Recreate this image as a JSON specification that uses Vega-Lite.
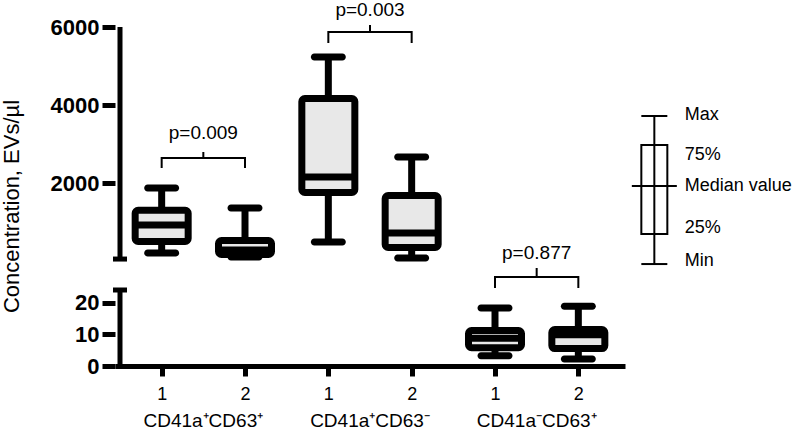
{
  "$schema": "https://vega.github.io/schema/vega-lite/v6.json",
  "autosize": {"type": "none"},
  "padding": {"left": 115, "top": 27, "right": 175, "bottom": 65},
  "width": 510,
  "height": 339,
  "background": "white",
  "config": {
    "view": {"stroke": null},
    "font": "Liberation Sans",
    "axis": {"grid": false, "labelColor": "black", "domainColor": "black", "tickColor": "black", "tickWidth": 5, "domainWidth": 5, "labelOverlap": false, "titleColor": "black"},
    "axisY": {"labelFontSize": 22, "labelFontWeight": "bold", "tickSize": 13, "labelPadding": 3, "domain": false},
    "axisX": {"labelFontSize": 18, "labelFontWeight": "normal", "tickSize": 10, "labelPadding": 9, "labelFlush": false}
  },
  "datasets": {
    "boxes": [
      {"group": "CD41a+CD63+", "sample": 1, "pos": 1, "min": 205, "q1": 500, "median": 923, "q3": 1300, "max": 1872},
      {"group": "CD41a+CD63+", "sample": 2, "pos": 2, "min": 100, "q1": 167, "median": 282, "q3": 526, "max": 1359},
      {"group": "CD41a+CD63-", "sample": 1, "pos": 3, "min": 487, "q1": 1756, "median": 2154, "q3": 4167, "max": 5231},
      {"group": "CD41a+CD63-", "sample": 2, "pos": 4, "min": 77, "q1": 346, "median": 718, "q3": 1679, "max": 2667},
      {"group": "CD41a-CD63+", "sample": 1, "pos": 5, "min": 3.2, "q1": 5.8, "median": 8.8, "q3": 11.2, "max": 18.3},
      {"group": "CD41a-CD63+", "sample": 2, "pos": 6, "min": 2.2, "q1": 5.5, "median": 9.9, "q3": 11.5, "max": 18.9}
    ],
    "brackets": [
      {"b": "b1", "i": 0, "pos": 1, "v": 2385}, {"b": "b1", "i": 1, "pos": 1, "v": 2641}, {"b": "b1", "i": 2, "pos": 1.5, "v": 2641}, {"b": "b1", "i": 3, "pos": 1.5, "v": 2795}, {"b": "b1", "i": 4, "pos": 1.5, "v": 2641}, {"b": "b1", "i": 5, "pos": 2, "v": 2641}, {"b": "b1", "i": 6, "pos": 2, "v": 2385},
      {"b": "b2", "i": 0, "pos": 3, "v": 5590}, {"b": "b2", "i": 1, "pos": 3, "v": 5872}, {"b": "b2", "i": 2, "pos": 3.5, "v": 5872}, {"b": "b2", "i": 3, "pos": 3.5, "v": 6051}, {"b": "b2", "i": 4, "pos": 3.5, "v": 5872}, {"b": "b2", "i": 5, "pos": 4, "v": 5872}, {"b": "b2", "i": 6, "pos": 4, "v": 5590},
      {"b": "b3", "i": 0, "pos": 5, "v": 25.7}, {"b": "b3", "i": 1, "pos": 5, "v": 34.9}, {"b": "b3", "i": 2, "pos": 5.5, "v": 34.9}, {"b": "b3", "i": 3, "pos": 5.5, "v": 42.5}, {"b": "b3", "i": 4, "pos": 5.5, "v": 34.9}, {"b": "b3", "i": 5, "pos": 6, "v": 34.9}, {"b": "b3", "i": 6, "pos": 6, "v": 25.7}
    ],
    "pvalues": [
      {"label": "p=0.009", "pos": 1.5, "v": 3282},
      {"label": "p=0.003", "pos": 3.5, "v": 6440},
      {"label": "p=0.877", "pos": 5.5, "v": 205}
    ],
    "groups": [
      {"label": "CD41a⁺CD63⁺", "pos": 1.5},
      {"label": "CD41a⁺CD63⁻", "pos": 3.5},
      {"label": "CD41a⁻CD63⁺", "pos": 5.5}
    ],
    "legend_box": [
      {"min": 45.8, "q1": 692, "median": 1923, "q3": 2974, "max": 3718}
    ],
    "legend_labels": [
      {"label": "Max", "v": 3744},
      {"label": "75%", "v": 2718},
      {"label": "Median value", "v": 1923},
      {"label": "25%", "v": 846},
      {"label": "Min", "v": 48.4}
    ]
  },
  "layer": [
    {
      "data": {"name": "boxes"},
      "mark": {"type": "rule", "strokeWidth": 7, "color": "black"},
      "encoding": {
        "x": {"field": "pos", "type": "quantitative", "scale": {"domain": [0.5, 6.5], "nice": false, "zero": false},
          "axis": {"values": [1, 2, 3, 4, 5, 6], "labelExpr": "datum.value % 2 == 1 ? '1' : '2'", "title": null}},
        "y": {"field": "min", "type": "quantitative",
          "scale": {"type": "linear", "domain": [0, 24, 50, 6000], "range": [339, 263, 232.05, 0], "nice": false, "zero": false},
          "axis": {"values": [0, 10, 20, 2000, 4000, 6000], "format": "d", "title": "Concentration, EVs/µl", "titleFontSize": 22, "titleFontWeight": "normal", "titleX": -104, "titleY": 179, "titleBaseline": "middle", "titleAngle": -90, "titleAlign": "center"}},
        "y2": {"field": "max"}
      }
    },
    {
      "data": {"name": "boxes"},
      "mark": {"type": "bar", "orient": "vertical", "width": 53, "fill": "#e8e8e8", "stroke": "black", "strokeWidth": 7, "cornerRadius": 3, "opacity": 1},
      "encoding": {
        "x": {"field": "pos", "type": "quantitative", "axis": {"title": null}},
        "y": {"field": "q1", "type": "quantitative"},
        "y2": {"field": "q3"}
      }
    },
    {
      "data": {"name": "boxes"},
      "mark": {"type": "tick", "orient": "horizontal", "size": 53, "thickness": 7, "color": "black", "opacity": 1},
      "encoding": {
        "x": {"field": "pos", "type": "quantitative", "axis": {"title": null}},
        "y": {"field": "median", "type": "quantitative"}
      }
    },
    {
      "data": {"name": "boxes"},
      "mark": {"type": "tick", "orient": "horizontal", "size": 35, "thickness": 7, "cornerRadius": 3.5, "color": "black", "opacity": 1},
      "encoding": {
        "x": {"field": "pos", "type": "quantitative", "axis": {"title": null}},
        "y": {"field": "min", "type": "quantitative"}
      }
    },
    {
      "data": {"name": "boxes"},
      "mark": {"type": "tick", "orient": "horizontal", "size": 35, "thickness": 7, "cornerRadius": 3.5, "color": "black", "opacity": 1},
      "encoding": {
        "x": {"field": "pos", "type": "quantitative", "axis": {"title": null}},
        "y": {"field": "max", "type": "quantitative"}
      }
    },
    {
      "data": {"name": "brackets"},
      "mark": {"type": "line", "strokeWidth": 2, "color": "black", "interpolate": "linear"},
      "encoding": {
        "x": {"field": "pos", "type": "quantitative", "axis": {"title": null}},
        "y": {"field": "v", "type": "quantitative"},
        "order": {"field": "i", "type": "quantitative"},
        "detail": {"field": "b", "type": "nominal"}
      }
    },
    {
      "data": {"name": "pvalues"},
      "mark": {"type": "text", "fontSize": 19, "baseline": "middle", "align": "center", "color": "black"},
      "encoding": {
        "x": {"field": "pos", "type": "quantitative", "axis": {"title": null}},
        "y": {"field": "v", "type": "quantitative"},
        "text": {"field": "label"}
      }
    },
    {
      "data": {"values": [{}]},
      "mark": {"type": "rule", "strokeWidth": 5, "color": "black"},
      "encoding": {
        "x": {"datum": 0.5, "type": "quantitative", "axis": {"title": null}},
        "y": {"datum": 0, "type": "quantitative"},
        "y2": {"datum": 24}
      }
    },
    {
      "data": {"values": [{}]},
      "mark": {"type": "rule", "strokeWidth": 5, "color": "black"},
      "encoding": {
        "x": {"datum": 0.5, "type": "quantitative", "axis": {"title": null}},
        "y": {"datum": 50, "type": "quantitative"},
        "y2": {"datum": 6000}
      }
    },
    {
      "data": {"values": [{}]},
      "mark": {"type": "tick", "orient": "horizontal", "size": 14, "thickness": 5, "color": "black", "opacity": 1},
      "encoding": {
        "x": {"datum": 0.5, "type": "quantitative", "axis": {"title": null}},
        "y": {"datum": 24, "type": "quantitative"}
      }
    },
    {
      "data": {"values": [{}]},
      "mark": {"type": "tick", "orient": "horizontal", "size": 14, "thickness": 5, "color": "black", "opacity": 1},
      "encoding": {
        "x": {"datum": 0.5, "type": "quantitative", "axis": {"title": null}},
        "y": {"datum": 50, "type": "quantitative"}
      }
    },
    {
      "data": {"name": "legend_box"},
      "mark": {"type": "rule", "strokeWidth": 2, "color": "black"},
      "encoding": {
        "x": {"datum": 6.912, "type": "quantitative", "axis": {"title": null}},
        "y": {"field": "min", "type": "quantitative"},
        "y2": {"field": "max"}
      }
    },
    {
      "data": {"name": "legend_box"},
      "mark": {"type": "bar", "orient": "vertical", "width": 26, "fillOpacity": 0, "stroke": "black", "strokeWidth": 2},
      "encoding": {
        "x": {"datum": 6.912, "type": "quantitative", "axis": {"title": null}},
        "y": {"field": "q1", "type": "quantitative"},
        "y2": {"field": "q3"}
      }
    },
    {
      "data": {"name": "legend_box"},
      "mark": {"type": "tick", "orient": "horizontal", "size": 26, "thickness": 2, "color": "black", "opacity": 1},
      "encoding": {
        "x": {"datum": 6.912, "type": "quantitative", "axis": {"title": null}},
        "y": {"field": "min", "type": "quantitative"}
      }
    },
    {
      "data": {"name": "legend_box"},
      "mark": {"type": "tick", "orient": "horizontal", "size": 26, "thickness": 2, "color": "black", "opacity": 1},
      "encoding": {
        "x": {"datum": 6.912, "type": "quantitative", "axis": {"title": null}},
        "y": {"field": "max", "type": "quantitative"}
      }
    },
    {
      "data": {"name": "legend_box"},
      "mark": {"type": "tick", "orient": "horizontal", "size": 45, "thickness": 2, "color": "black", "opacity": 1},
      "encoding": {
        "x": {"datum": 6.912, "type": "quantitative", "axis": {"title": null}},
        "y": {"field": "median", "type": "quantitative"}
      }
    },
    {
      "data": {"name": "legend_labels"},
      "mark": {"type": "text", "fontSize": 18, "align": "left", "baseline": "middle", "color": "black"},
      "encoding": {
        "x": {"datum": 7.276, "type": "quantitative", "axis": {"title": null}},
        "y": {"field": "v", "type": "quantitative"},
        "text": {"field": "label"}
      }
    },
    {
      "data": {"name": "groups"},
      "mark": {"type": "text", "fontSize": 19, "baseline": "middle", "align": "center", "color": "black"},
      "encoding": {
        "x": {"field": "pos", "type": "quantitative", "axis": {"title": null}},
        "y": {"datum": -17.4, "type": "quantitative"},
        "text": {"field": "label"}
      }
    }
  ]
}
